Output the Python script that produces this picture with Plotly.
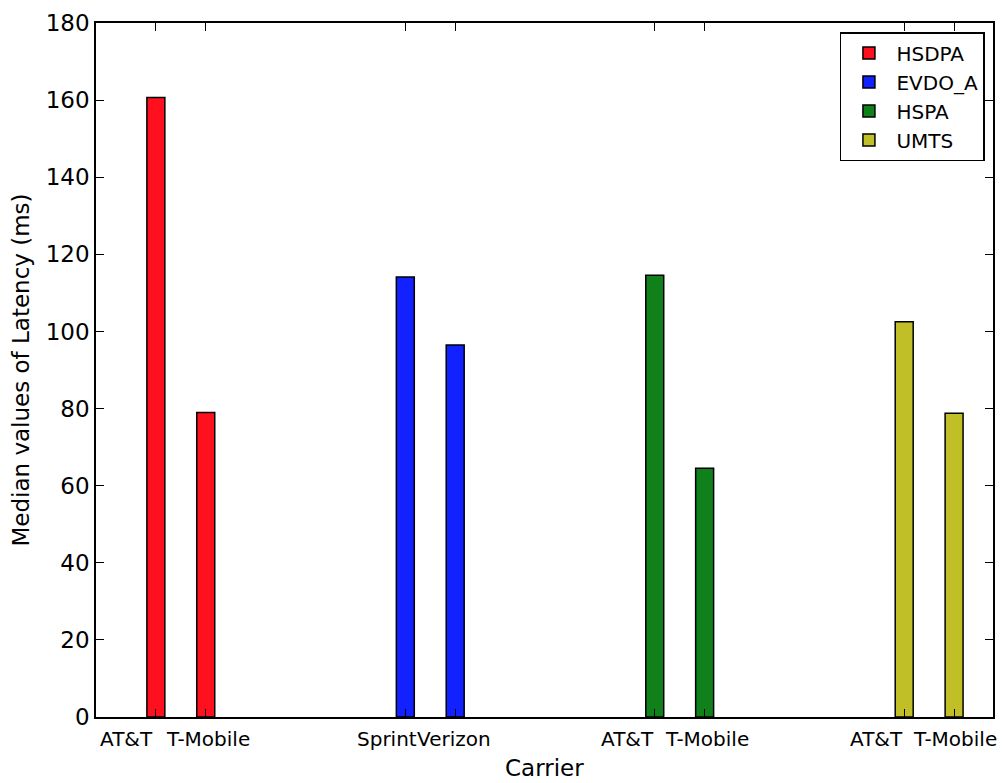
import plotly.graph_objects as go

# ---- data ----
technologies = ["HSDPA", "EVDO_A", "HSPA", "UMTS"]
carriers = [["AT&T", "T-Mobile"], ["Sprint", "Verizon"], ["AT&T", "T-Mobile"], ["AT&T", "T-Mobile"]]
latency_hsdpa = [160.7, 79.0]
latency_evdo_a = [114.1, 96.5]
latency_hspa = [114.6, 64.5]
latency_umts = [102.5, 78.8]
y_ticks = [0, 20, 40, 60, 80, 100, 120, 140, 160, 180]

series = [latency_hsdpa, latency_evdo_a, latency_hspa, latency_umts]
colors = ["#ff101f", "#1121ff", "#10801a", "#c0bf28"]

GROUP_STEP = 5
BAR_W = 0.36
FONT = "DejaVu Sans"

fig = go.Figure()
bar_centers = []
for g, (name, vals) in enumerate(zip(technologies, series)):
    xs = [g * GROUP_STEP + i for i in range(len(vals))]
    bar_centers += xs
    fig.add_trace(go.Bar(
        x=xs, y=vals, name=name, width=BAR_W,
        marker=dict(color=colors[g], line=dict(color="black", width=1.5)),
    ))

# x tick labels (first label right-aligned, second left-aligned)
right_edge_off = [-0.01, 0.27, 0.03, 0.01]
left_edge_off = [0.16, 0.20, 0.16, 0.14]
annotations = []
for g, pair in enumerate(carriers):
    base = g * GROUP_STEP
    annotations.append(dict(x=base + right_edge_off[g], y=-0.011, xref="x", yref="paper",
                            text=pair[0], showarrow=False, xanchor="right", yanchor="top",
                            font=dict(family=FONT, size=20, color="black")))
    annotations.append(dict(x=base + left_edge_off[g], y=-0.011, xref="x", yref="paper",
                            text=pair[1], showarrow=False, xanchor="left", yanchor="top",
                            font=dict(family=FONT, size=20, color="black")))
annotations.append(dict(x=0.5, y=-0.052, xref="paper", yref="paper", text="Carrier",
                        showarrow=False, xanchor="center", yanchor="top",
                        font=dict(family=FONT, size=23, color="black")))

fig.update_layout(
    width=1005, height=783,
    margin=dict(l=96, r=10, t=20, b=66),
    paper_bgcolor="white", plot_bgcolor="white",
    font=dict(family=FONT, color="black"),
    barmode="overlay",
    showlegend=True,
    legend=dict(x=0.991, y=0.987, xanchor="right", yanchor="top",
                bgcolor="white", bordercolor="black", borderwidth=1.5,
                font=dict(family=FONT, size=20, color="black"),
                itemwidth=45, tracegroupgap=4),
    annotations=annotations,
    xaxis=dict(range=[-1.2, 16.78], tickvals=bar_centers, showticklabels=False,
               ticks="inside", ticklen=8, tickcolor="black", tickwidth=1,
               showline=True, linecolor="black", linewidth=1.5, mirror="ticks",
               showgrid=False, zeroline=False),
    yaxis=dict(range=[0, 180], tickvals=y_ticks, ticks="inside", ticklen=8,
               tickcolor="black", tickwidth=1,
               showline=True, linecolor="black", linewidth=1.5, mirror="ticks",
               showgrid=False, zeroline=False,
               tickfont=dict(family=FONT, size=23, color="black"),
               title=dict(text="Median values of Latency (ms)", standoff=10,
                          font=dict(family=FONT, size=23, color="black"))),
)

fig.write_html("out.html")
